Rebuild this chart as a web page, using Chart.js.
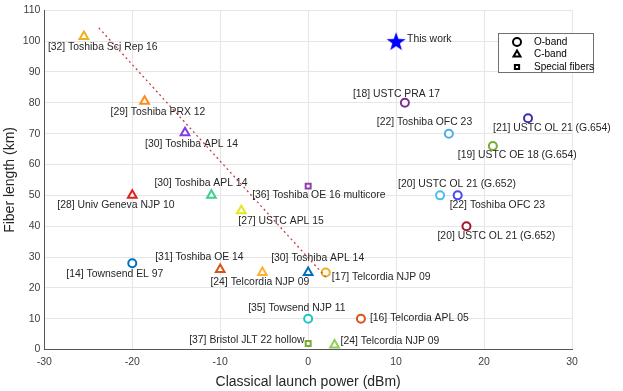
<!DOCTYPE html>
<html lang="en">
<head>
    <meta charset="UTF-8">
    <title>Fiber length vs classical launch power</title>
    <script src="https://cdn.jsdelivr.net/npm/chart.js"></script>
    <style>
        body { margin: 0; background: #fff; }
        #wrap { width: 623px; height: 391px; }
    </style>
</head>
<body>
    <div id="wrap">
        <canvas id="qkdChart"></canvas>
    </div>
    <script>
        // data
        const oBandLabels = ['[14] Townsend EL 97', '[17] Telcordia NJP 09', '[35] Towsend NJP 11', '[16] Telcordia APL 05',
            '[18] USTC PRA 17', '[22] Toshiba OFC 23', '[21] USTC OL 21 (G.654)', '[19] USTC OE 18 (G.654)',
            '[20] USTC OL 21 (G.652)', '[22] Toshiba OFC 23', '[20] USTC OL 21 (G.652)'];
        const oBandPower = [-20, 2, 0, 6, 11, 16, 25, 21, 15, 17, 18];
        const oBandLength = [28, 25, 10, 10, 80, 70, 75, 66, 50, 50, 40];

        const cBandLabels = ['[32] Toshiba Sci Rep 16', '[29] Toshiba PRX 12', '[30] Toshiba APL 14', '[28] Univ Geneva NJP 10',
            '[30] Toshiba APL 14', '[27] USTC APL 15', '[31] Toshiba OE 14', '[24] Telcordia NJP 09',
            '[30] Toshiba APL 14', '[24] Telcordia NJP 09'];
        const cBandPower = [-25.5, -18.6, -14, -20, -11, -7.6, -10, -5.2, 0, 3];
        const cBandLength = [101.5, 80.5, 70.3, 50, 50, 45, 26, 25, 25, 1.5];

        const specialLabels = ['[36] Toshiba OE 16 multicore', '[37] Bristol JLT 22 hollow'];
        const specialPower = [0, 0];
        const specialLength = [53, 2];

        const thisWorkLabels = ['This work'];
        const thisWorkPower = [10];
        const thisWorkLength = [100];

        const trendPower = [-23.8, 2.1];
        const trendLength = [104.3, 23.2];

        const xTicks = [-30, -20, -10, 0, 10, 20, 30];
        const yTicks = [0, 10, 20, 30, 40, 50, 60, 70, 80, 90, 100, 110];

        // styles
        const oBandColors = ['#0072BD', '#EDB120', '#1CC7C7', '#D95319', '#7E2F8E', '#4DAEEE',
            '#3A2FB0', '#77AC30', '#4DBEEE', '#4A4AF0', '#A2142F'];
        const cBandColors = ['#EDB120', '#FF8A1A', '#7E3FDE', '#E0201B', '#3CCF8A', '#E6E61A',
            '#D95319', '#FFB030', '#0072BD', '#8CD05A'];
        const specialColors = ['#8E3FA8', '#77AC30'];

        // label offsets in pixels from the marker (left edge, middle)
        const oBandOffsets = [[-66, 11], [6, 5], [-60, -11], [9, -1], [-52, -9], [-72, -12],
            [-35, 10], [-35, 9], [-42, -11], [-8, 10], [-29, 10]];
        const cBandOffsets = [[-36, 11], [-34, 11], [-40, 11], [-75, 10], [-57, -12], [-3, 10],
            [-65, -12], [-52, 10], [-37, -14], [6, -4]];
        const specialOffsets = [[-56, 9], [-119, -3]];
        const thisWorkOffsets = [[11, -2]];

        const FONT = '"Liberation Sans", Arial, sans-serif';
        const toPoints = (xs, ys) => xs.map((x, i) => ({ x: x, y: ys[i] }));

        // filled five point star
        function makeStar(r, color) {
            const c = document.createElement('canvas');
            c.width = r * 2 + 2;
            c.height = r * 2 + 2;
            const g = c.getContext('2d');
            g.fillStyle = color;
            g.beginPath();
            for (let i = 0; i < 10; i++) {
                const rad = i % 2 === 0 ? r : r * 0.4;
                const a = -Math.PI / 2 + i * Math.PI / 5;
                const px = r + 1 + rad * Math.cos(a);
                const py = r + 1 + rad * Math.sin(a) + r * 0.1;
                if (i === 0) g.moveTo(px, py); else g.lineTo(px, py);
            }
            g.closePath();
            g.fill();
            return c;
        }
        const starImg = makeStar(10, '#0000FF');

        const labelPlugin = {
            id: 'pointLabels',
            afterDatasetsDraw(chart) {
                const c = chart.ctx;
                c.save();
                c.font = '10.4px ' + FONT;
                c.fillStyle = '#262626';
                c.textBaseline = 'middle';
                c.textAlign = 'left';
                chart.data.datasets.forEach((ds, di) => {
                    if (!ds.pointLabels) return;
                    const meta = chart.getDatasetMeta(di);
                    meta.data.forEach((el, i) => {
                        const off = ds.labelOffsets[i];
                        c.fillText(ds.pointLabels[i], el.x + off[0], el.y + off[1]);
                    });
                });
                c.restore();
            }
        };

        const legendPlugin = {
            id: 'bandLegend',
            afterDraw(chart) {
                const c = chart.ctx;
                const x0 = 498, y0 = 33, w = 95, h = 39;
                c.save();
                c.fillStyle = '#fff';
                c.fillRect(x0, y0, w, h);
                c.strokeStyle = '#707070';
                c.lineWidth = 1;
                c.strokeRect(x0 + 0.5, y0 + 0.5, w, h);
                const rows = [['circle', 'O-band'], ['triangle', 'C-band'], ['rect', 'Special fibers']];
                c.font = '10px ' + FONT;
                c.textBaseline = 'middle';
                rows.forEach((r, i) => {
                    const yy = y0 + 9 + i * 12.5;
                    c.strokeStyle = '#000';
                    c.fillStyle = '#fff';
                    c.lineWidth = 2;
                    Chart.helpers.drawPoint(c, {
                        pointStyle: r[0], radius: r[0] === 'rect' ? 3 : 4, borderWidth: 2
                    }, x0 + 19, yy);
                    c.fillStyle = '#000';
                    c.fillText(r[1], x0 + 36, yy);
                });
                c.restore();
            }
        };

        const ctx = document.getElementById('qkdChart').getContext('2d');
        const qkdChart = new Chart(ctx, {
            type: 'scatter',
            data: {
                datasets: [
                    {
                        type: 'line',
                        label: 'trend',
                        data: toPoints(trendPower, trendLength),
                        borderColor: '#C94040',
                        borderWidth: 1.3,
                        borderDash: [2, 3],
                        pointRadius: 0,
                        fill: false
                    },
                    {
                        label: 'O-band',
                        data: toPoints(oBandPower, oBandLength),
                        pointStyle: 'circle',
                        pointRadius: 4,
                        pointBorderWidth: 2,
                        pointBorderColor: oBandColors,
                        pointBackgroundColor: '#fff',
                        pointLabels: oBandLabels,
                        labelOffsets: oBandOffsets
                    },
                    {
                        label: 'C-band',
                        data: toPoints(cBandPower, cBandLength),
                        pointStyle: 'triangle',
                        pointRadius: 5,
                        pointBorderWidth: 2,
                        pointBorderColor: cBandColors,
                        pointBackgroundColor: '#fff',
                        pointLabels: cBandLabels,
                        labelOffsets: cBandOffsets
                    },
                    {
                        label: 'Special fibers',
                        data: toPoints(specialPower, specialLength),
                        pointStyle: 'rect',
                        pointRadius: 3.5,
                        pointBorderWidth: 2,
                        pointBorderColor: specialColors,
                        pointBackgroundColor: '#fff',
                        pointLabels: specialLabels,
                        labelOffsets: specialOffsets
                    },
                    {
                        label: 'This work',
                        data: toPoints(thisWorkPower, thisWorkLength),
                        pointStyle: starImg,
                        pointLabels: thisWorkLabels,
                        labelOffsets: thisWorkOffsets
                    }
                ]
            },
            options: {
                responsive: true,
                maintainAspectRatio: false,
                animation: false,
                layout: { padding: { top: 8, right: 51, bottom: 0, left: 2 } },
                plugins: {
                    legend: { display: false },
                    tooltip: { enabled: false }
                },
                scales: {
                    x: {
                        type: 'linear',
                        min: -30,
                        max: 30,
                        afterBuildTicks: (axis) => { axis.ticks = xTicks.map(v => ({ value: v })); },
                        grid: { color: '#e6e6e6', drawTicks: false },
                        border: { color: '#555', width: 1 },
                        ticks: {
                            color: '#404040',
                            padding: 6,
                            font: { family: FONT, size: 10.5 }
                        },
                        title: {
                            display: true,
                            text: 'Classical launch power (dBm)',
                            color: '#262626',
                            padding: { top: 0, bottom: 0 },
                            font: { family: FONT, size: 14 }
                        }
                    },
                    y: {
                        type: 'linear',
                        min: 0,
                        max: 110,
                        afterBuildTicks: (axis) => { axis.ticks = yTicks.map(v => ({ value: v })); },
                        grid: { color: '#e6e6e6', drawTicks: false },
                        border: { color: '#555', width: 1 },
                        ticks: {
                            color: '#404040',
                            padding: 4,
                            font: { family: FONT, size: 10.5 }
                        },
                        title: {
                            display: true,
                            text: 'Fiber length (km)',
                            color: '#262626',
                            padding: { top: 0, bottom: 0 },
                            font: { family: FONT, size: 14 }
                        }
                    }
                }
            },
            plugins: [labelPlugin, legendPlugin]
        });
    </script>
</body>
</html>
